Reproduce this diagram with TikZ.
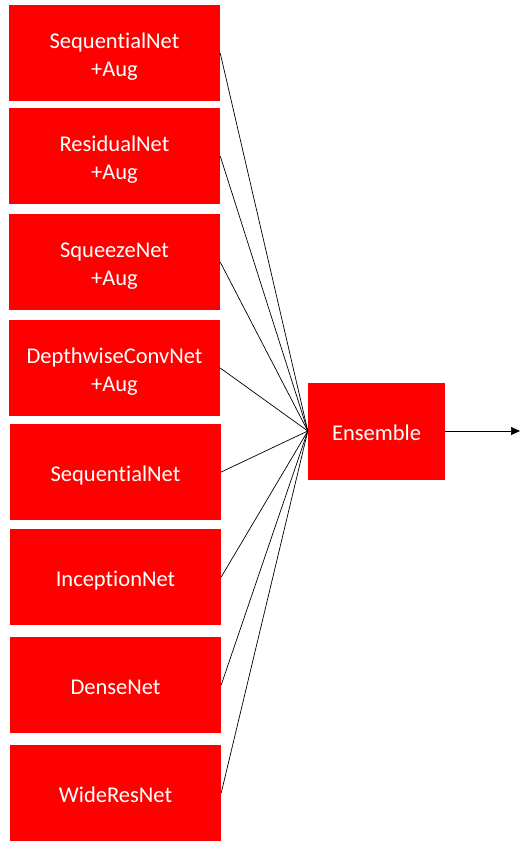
\documentclass[tikz,border=0pt]{standalone}
\usepackage{fontspec}
\setmainfont{Carlito}[Ligatures=NoCommon]
\usetikzlibrary{arrows.meta}
\newcommand\boxlift[1]{\raisebox{-9pt}[0pt][0pt]{\begin{tabular}{@{}c@{}}#1\end{tabular}}}
\begin{document}
\begin{tikzpicture}[x=1pt,y=-1pt,
  netbox/.style={rectangle,fill=red,draw=none,text=white,
    minimum width=211pt,minimum height=96pt,inner sep=0pt,
    font=\fontsize{22.5}{27.5}\selectfont},
  link/.style={draw=black,line width=0.7pt}]
\useasboundingbox (0,0) rectangle (526,852);
\node[netbox] (n1) at (114.5,53) {\boxlift{SequentialNet\\+Aug}};
\node[netbox] (n2) at (114.5,156) {\boxlift{ResidualNet\\+Aug}};
\node[netbox] (n3) at (114.5,262) {\boxlift{SqueezeNet\\+Aug}};
\node[netbox] (n4) at (114.5,368) {\boxlift{DepthwiseConvNet\\+Aug}};
\node[netbox] (n5) at (115.5,472) {\boxlift{SequentialNet}};
\node[netbox] (n6) at (115.5,577) {\boxlift{InceptionNet}};
\node[netbox] (n7) at (115.5,685) {\boxlift{DenseNet}};
\node[netbox] (n8) at (115.5,793) {\boxlift{WideResNet}};
\node[netbox,minimum width=137pt,minimum height=97pt] (ens) at (376.5,431) {\boxlift{Ensemble}};
\coordinate (out) at (520,431);
\foreach \i in {1,...,8}{\draw[link] (n\i.east) -- (ens.west);}
\draw[link,-{Triangle[length=9pt,width=8pt]}] (ens.east) -- (out);
\end{tikzpicture}
\end{document}
